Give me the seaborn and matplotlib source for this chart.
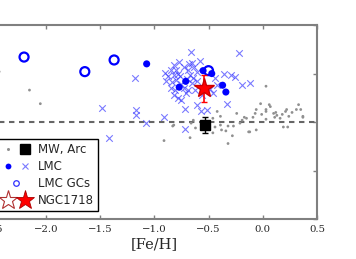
import numpy as np
import pandas as pd
import seaborn as sns
import matplotlib
matplotlib.use("Agg")
import matplotlib.pyplot as plt
from matplotlib.lines import Line2D
from matplotlib.legend_handler import HandlerTuple

# ---------------- data ----------------
mw_feh = [-2.43, -2.15, -2.05, -0.91, -0.83,
          -0.42, -0.39, -0.46, -0.24, -0.19, -0.64, -0.66, -0.82, -0.62, -0.44,
          -0.38, -0.39, -0.32, -0.27, -0.34, -0.46, -0.67, -0.28, -0.32, -0.13,
          -0.21, -0.15, 0.03, -0.02, 0.06, 0.07, 0.33, -0.06, 0.03, 0.03, 0.22,
          0.31, 0.35, -0.07, -0.01, 0.10, 0.12, 0.13, 0.18, 0.21, 0.27, 0.37,
          0.37, -0.17, -0.09, 0.03, 0.16, 0.24, 0.19, 0.23, -0.12, -0.06, 0.11]
mw_x = [0.52, 0.33, 0.19, -0.19, -0.04,
        0.11, 0.06, 0.04, 0.09, 0.02, 0.02, -0.01, -0.03, -0.06, -0.05,
        -0.08, -0.03, -0.04, -0.04, -0.09, -0.11, -0.16, -0.14, -0.22, -0.10,
        -0.01, 0.04, 0.37, 0.19, 0.18, 0.16, 0.18, 0.13, 0.13, 0.11, 0.13,
        0.13, 0.13, 0.09, 0.08, 0.09, 0.10, 0.07, 0.08, 0.11, 0.10, 0.06,
        0.05, 0.05, 0.05, 0.03, 0.04, 0.06, -0.05, -0.05, -0.10, -0.08, 0.05]

lmc_field_feh = [-1.18, -1.48, -1.17, -1.17, -1.08, -1.42, -0.91, -0.66, -0.22,
                 -0.82, -0.77, -0.65, -0.58, -0.85, -0.80, -0.73, -0.69, -0.63,
                 -0.61, -0.87, -0.82, -0.76, -0.67, -0.64, -0.89, -0.84, -0.80,
                 -0.65, -0.61, -0.85, -0.81, -0.73, -0.69, -0.62, -0.82, -0.78,
                 -0.75, -0.72, -0.61, -0.56, -0.46, -0.44, -0.36, -0.29, -0.26,
                 -0.19, -0.33, -0.49, -0.42, -0.12, -0.57, -0.51, -0.72,
                 -0.78, -0.70, -0.75, -0.68, -0.90, -0.71]
lmc_field_x = [0.45, 0.15, 0.13, 0.07, -0.01, -0.16, 0.05, 0.72, 0.71,
               0.59, 0.62, 0.61, 0.63, 0.54, 0.54, 0.57, 0.54, 0.57,
               0.52, 0.47, 0.49, 0.47, 0.49, 0.45, 0.42, 0.41, 0.43,
               0.40, 0.42, 0.35, 0.33, 0.35, 0.33, 0.33, 0.28, 0.25,
               0.23, 0.14, 0.18, 0.28, 0.30, 0.45, 0.50, 0.49, 0.46,
               0.38, 0.19, 0.34, 0.38, 0.40, 0.11, 0.12, -0.07,
               0.50, 0.44, 0.39, 0.60, 0.51, 0.30]

lmc_dot_feh = [-1.07, -0.71, -0.77, -0.55, -0.47, -0.37, -0.34]
lmc_dot_x = [0.60, 0.42, 0.36, 0.53, 0.50, 0.38, 0.31]

gc_feh = [-2.20, -1.64, -1.37, -0.50]
gc_x = [0.67, 0.52, 0.64, 0.53]

ngc_feh, ngc_x, ngc_err = [-0.54], [0.35], [0.14]
mwarc_feh, mwarc_x, mwarc_err = [-0.53], [-0.03], [0.08]

legend_labels = ["MW, Arc", "LMC", "LMC GCs", "NGC1718"]
xticks = [-2.5, -2.0, -1.5, -1.0, -0.5, 0.0, 0.5]
yticks = [-1.0, -0.5, 0.0, 0.5, 1.0]

# ---------------- figure ----------------
sns.set_theme(style="white")
plt.rcParams["font.family"] = ["DejaVu Sans"]

W, H = 356, 259
fig = plt.figure(figsize=(W / 100, H / 100), dpi=100)
ax_left, ax_right, ax_top, ax_bot = -8.5, 317, 25, 219.3
ax = fig.add_axes([ax_left / W, 1 - ax_bot / H, (ax_right - ax_left) / W, (ax_bot - ax_top) / H])

ax.axhline(0, color="#666666", lw=1.5, ls="--", dashes=(2.6, 2.2), zorder=1)

sns.scatterplot(x=mw_feh, y=mw_x, ax=ax, marker="o", s=4, color="#909090",
                edgecolor="none", zorder=2, legend=False)
sns.scatterplot(x=lmc_field_feh, y=lmc_field_x, ax=ax, marker="x", s=22,
                color="#3030ff", alpha=0.65, linewidth=0.8, zorder=3, legend=False)
sns.scatterplot(x=lmc_dot_feh, y=lmc_dot_x, ax=ax, marker="o", s=26,
                color="#0000ff", edgecolor="none", zorder=4, legend=False)
sns.scatterplot(x=gc_feh, y=gc_x, ax=ax, marker="o", s=42, facecolor="none",
                edgecolor="#0000ff", linewidth=1.6, zorder=4, legend=False)

ax.errorbar(mwarc_feh, mwarc_x, yerr=mwarc_err, fmt="s", color="black",
            ms=6.5, capsize=2, elinewidth=1, zorder=5)
ax.errorbar(ngc_feh, ngc_x, yerr=ngc_err, fmt="*", color="red", mec="#cc0000",
            ms=15, capsize=2, elinewidth=1.2, zorder=6)

ax.set_xlim(-2.5, 0.5)
ax.set_ylim(-1.0, 1.0)
ax.set_xticks(xticks)
ax.set_xticklabels([f"{t:.1f}".replace("-", "\u2212") for t in xticks],
                   family="DejaVu Serif", fontsize=7.3)
ax.set_yticks(yticks)
ax.tick_params(direction="in", top=True, right=True, bottom=True, left=True,
               length=3, width=1, color="#808080", pad=4, labelleft=False)
for sp in ax.spines.values():
    sp.set_color("#808080")
    sp.set_linewidth(1.5)
ax.set_xlabel("[Fe/H]", family="DejaVu Serif", fontsize=10.5, labelpad=2)
ax.set_ylabel("")

# legend
h_mw = (Line2D([], [], ls="none", marker="o", ms=2.2, color="#909090", mec="none"),
        Line2D([], [], ls="none", marker="s", ms=6.5, color="black"))
h_lmc = (Line2D([], [], ls="none", marker="o", ms=4.2, color="#0000ff", mec="none"),
         Line2D([], [], ls="none", marker="x", ms=4.5, mew=0.8, color="#4040ff", alpha=0.7))
h_gc = Line2D([], [], ls="none", marker="o", ms=4, mfc="none", mec="#3030ff", mew=0.9)
h_ngc = (Line2D([], [], ls="none", marker="*", ms=14, mfc="none", mec="#b03030", mew=0.8),
         Line2D([], [], ls="none", marker="*", ms=14, color="red", mec="#aa0000", mew=0.6))
leg = ax.legend([h_mw, h_lmc, h_gc, h_ngc], legend_labels,
                handler_map={tuple: HandlerTuple(ndivide=None, pad=0)},
                loc="upper right", bbox_to_anchor=(97.7 / W, 1 - 139.3 / H),
                bbox_transform=fig.transFigure, borderaxespad=0,
                fontsize=8.5, handlelength=2.9, handletextpad=0.4,
                borderpad=0.3, labelspacing=0.35, numpoints=1,
                frameon=True, fancybox=False, framealpha=1)
leg.get_frame().set_edgecolor("black")
leg.get_frame().set_linewidth(1.0)

fig.savefig("out.png", dpi=100)
